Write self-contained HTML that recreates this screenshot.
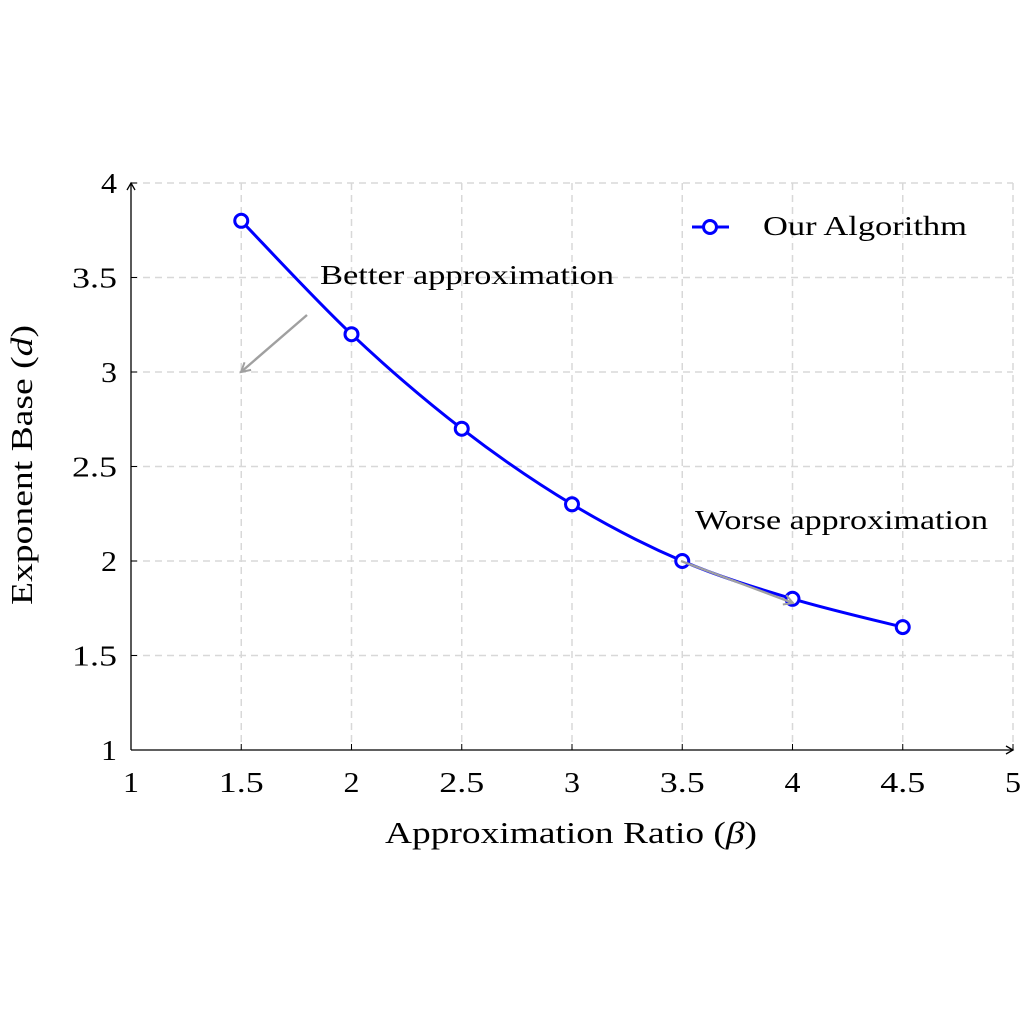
<!DOCTYPE html>
<html><head><meta charset="utf-8"><style>
html,body{margin:0;padding:0;background:#fff;}
svg{display:block;font-family:"Liberation Serif",serif;}
</style></head><body>
<svg id="chart" width="1024" height="1024" viewBox="0 0 1024 1024" xmlns="http://www.w3.org/2000/svg">
<defs>
<marker id="ax" markerWidth="10" markerHeight="10" refX="8" refY="5" orient="auto" markerUnits="userSpaceOnUse"><path d="M1,1 L8,5 L1,9" fill="none" stroke="#000" stroke-width="1.3"/></marker>
<marker id="ga" markerWidth="14" markerHeight="14" refX="11" refY="7" orient="auto" markerUnits="userSpaceOnUse"><path d="M2,2 L11,7 L2,12" fill="none" stroke="#a0a0a0" stroke-width="2"/></marker>
</defs>
<g id="grid"></g>
<g id="axes"></g>
<g id="series"></g>
<g id="annot">
<text x="320" y="284" font-size="27" textLength="294" lengthAdjust="spacingAndGlyphs">Better approximation</text>
<line x1="307" y1="315" x2="241" y2="372" stroke="#a0a0a0" stroke-width="2.4" marker-end="url(#ga)"/>
<text x="695" y="529" font-size="27" textLength="293" lengthAdjust="spacingAndGlyphs">Worse approximation</text>
<line x1="681" y1="561" x2="793" y2="603" stroke="#a0a0a0" stroke-width="2.4" marker-end="url(#ga)"/>
</g>
<g>
<line x1="692" y1="227" x2="729" y2="227" stroke="#0000ff" stroke-width="3"/>
<circle cx="710" cy="227" r="6.5" fill="#fff" stroke="#0000ff" stroke-width="3"/>
<text x="763" y="235" font-size="27" textLength="204" lengthAdjust="spacingAndGlyphs">Our Algorithm</text>
</g>
<text x="385" y="843" font-size="31" textLength="372" lengthAdjust="spacingAndGlyphs">Approximation Ratio (<tspan font-style="italic">β</tspan>)</text>
<text transform="translate(32,605) rotate(-90)" font-size="31" textLength="280" lengthAdjust="spacingAndGlyphs">Exponent Base (<tspan font-style="italic">d</tspan>)</text>
</svg>
<script>
const xs=[1.5,2,2.5,3,3.5,4,4.5];
const ys=[3.8,3.2,2.7,2.3,2.0,1.8,1.65];
const xTicks=[1,1.5,2,2.5,3,3.5,4,4.5,5];
const yTicks=[1,1.5,2,2.5,3,3.5,4];
const X=v=>131+(v-1)*220.5, Y=v=>750-(v-1)*189;
const NS="http://www.w3.org/2000/svg";
function mk(t,a,p){const e=document.createElementNS(NS,t);for(const k in a)e.setAttribute(k,a[k]);p.appendChild(e);return e;}
const grid=document.getElementById('grid'),axes=document.getElementById('axes'),ser=document.getElementById('series');
xTicks.forEach(t=>{
 if(t>1){const l=mk('line',{x1:X(t),x2:X(t),y1:183,y2:750,stroke:'#d8d8d8','stroke-width':1.5,'stroke-dasharray':'7,5'},grid);
 
 }
 const tk=mk('line',{x1:X(t),x2:X(t),y1:744,y2:750,stroke:'#000','stroke-width':1},axes);
 
 
 const s=String(t);
 const tx=mk('text',{x:X(t),y:792,'font-size':28,'text-anchor':'middle',textLength:s.length>1?45:16,lengthAdjust:'spacingAndGlyphs'},axes);tx.textContent=s;
 
 
});
yTicks.forEach(t=>{
 if(t>1){const l=mk('line',{x1:131,x2:1013,y1:Y(t),y2:Y(t),stroke:'#d8d8d8','stroke-width':1.5,'stroke-dasharray':'7,5'},grid);
 
 }
 const tk=mk('line',{x1:131,x2:137,y1:Y(t),y2:Y(t),stroke:'#000','stroke-width':1},axes);
 
 
 const s=String(t);
 const tx=mk('text',{x:117,y:Y(t)+10,'font-size':28,'text-anchor':'end',textLength:s.length>1?45:16,lengthAdjust:'spacingAndGlyphs'},axes);tx.textContent=s;
 
 
});
const xa=mk('line',{x1:131,y1:750,x2:1013,y2:750,stroke:'#000','stroke-width':1.3,'marker-end':'url(#ax)'},axes);


const ya=mk('line',{x1:131,y1:750,x2:131,y2:183,stroke:'#000','stroke-width':1.3,'marker-end':'url(#ax)'},axes);


const P=xs.map((x,i)=>[X(x),Y(ys[i])]);
let d='M'+P[0][0]+','+P[0][1];
for(let i=0;i<P.length-1;i++){
 const p0=P[Math.max(0,i-1)],p1=P[i],p2=P[i+1],p3=P[Math.min(P.length-1,i+2)],k=1/6;
 d+=` C${p1[0]+(p2[0]-p0[0])*k},${p1[1]+(p2[1]-p0[1])*k} ${p2[0]-(p3[0]-p1[0])*k},${p2[1]-(p3[1]-p1[1])*k} ${p2[0]},${p2[1]}`;
}
const line=mk('path',{d:d,fill:'none',stroke:'#0000ff','stroke-width':3},ser);


P.forEach(p=>{const c=mk('circle',{cx:p[0],cy:p[1],r:6.5,fill:'#fff',stroke:'#0000ff','stroke-width':3},ser);
 
 });
</script>
</body></html>
